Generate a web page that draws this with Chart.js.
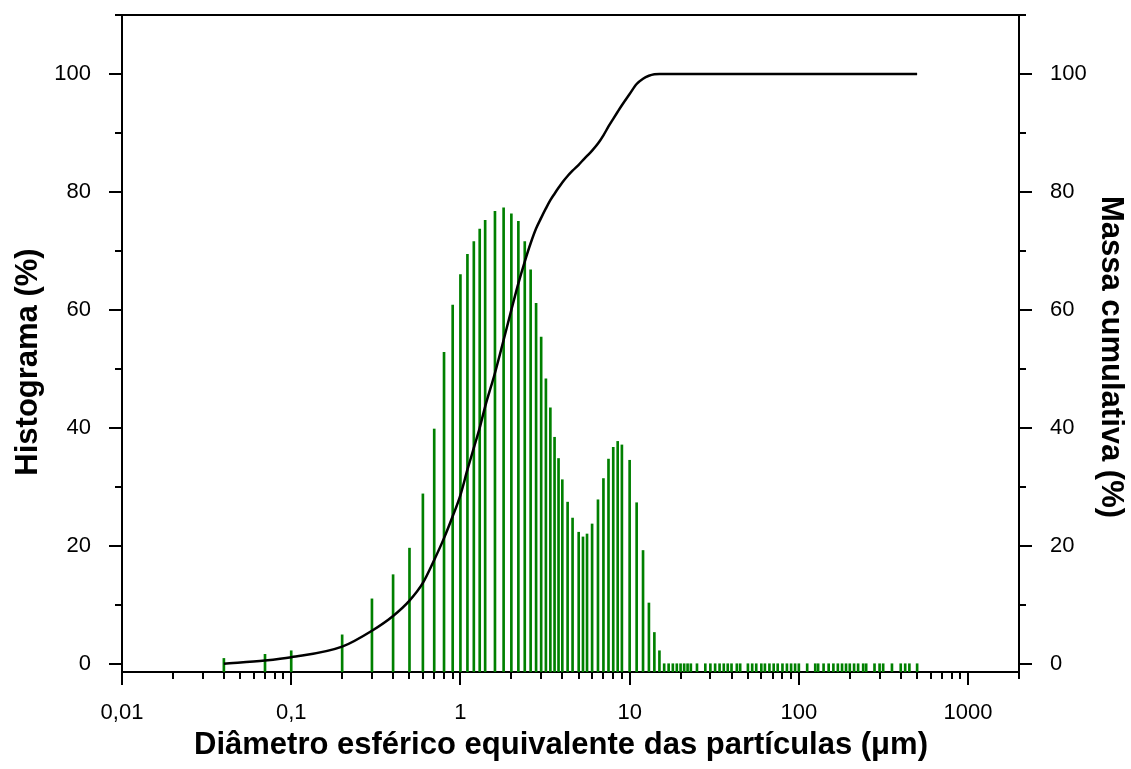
<!DOCTYPE html>
<html lang="pt">
<head>
<meta charset="utf-8">
<title>Distribuição granulométrica</title>
<script src="https://cdn.jsdelivr.net/npm/chart.js@4.4.1/dist/chart.umd.min.js"></script>
<style>
  html, body { margin: 0; padding: 0; background: #fff; }
  #wrap { width: 1131px; height: 769px; }
</style>
</head>
<body>
<div id="wrap"><canvas id="granChart" width="1131" height="769"></canvas></div>
<script>
// Size classes of the granulometer (µm)
const diameters = [
  0.04, 0.07, 0.1, 0.2, 0.3, 0.4, 0.5, 0.6, 0.7, 0.8, 0.9, 1, 1.1, 1.2, 1.3, 1.4,
  1.6, 1.8, 2, 2.2, 2.4, 2.6, 2.8, 3, 3.2, 3.4, 3.6, 3.8, 4, 4.3, 4.6,
  5, 5.3, 5.6, 6, 6.5, 7, 7.5, 8, 8.5, 9,
  10, 11, 12, 13, 14, 15, 16, 17, 18, 19, 20, 21, 22, 23,
  25, 28, 30, 32, 34, 36, 38, 40, 43, 45,
  50, 53, 56, 60, 63, 67, 71, 75, 80, 85, 90, 95,
  100, 112, 125, 130, 140, 150, 160, 170, 180, 190,
  200, 212, 224, 240, 250, 280, 300, 315, 355, 400, 425, 450, 500
];

// Histogram (%) for each class
const histogram = [
  0.9, 1.6, 2.2, 4.9, 11.0, 15.1, 19.6, 28.8, 39.8, 52.8, 60.8, 66.0, 69.4, 71.6, 73.7, 75.2,
  76.7, 77.3, 76.3, 75.0, 71.6, 66.8, 61.1, 55.4, 48.3, 43.4, 38.4, 34.8, 31.2, 27.4, 24.7,
  22.3, 21.5, 22.0, 23.7, 27.8, 31.4, 34.7, 36.7, 37.7, 37.1,
  34.5, 27.3, 19.2, 10.3, 5.3, 2.2, 0, 0, 0, 0, 0, 0, 0, 0,
  0, 0, 0, 0, 0, 0, 0, 0, 0, 0,
  0, 0, 0, 0, 0, 0, 0, 0, 0, 0, 0, 0,
  0, 0, 0, 0, 0, 0, 0, 0, 0, 0,
  0, 0, 0, 0, 0, 0, 0, 0, 0, 0, 0, 0, 0
];

// Cumulative mass (%) for each class
const cumulative = [
  0.0, 0.55, 1.1, 2.9, 5.6, 8.1, 10.7, 13.7, 17.6, 21.3, 25.0, 28.6, 32.9, 36.6, 40.0, 43.6,
  49.3, 54.9, 60.0, 64.5, 68.2, 71.3, 73.8, 75.6, 77.2, 78.6, 79.7, 80.7, 81.6, 82.7, 83.6,
  84.6, 85.4, 86.1, 87.0, 88.2, 89.6, 91.1, 92.4, 93.6, 94.7,
  96.6, 98.3, 99.2, 99.7, 99.95, 100, 100, 100, 100, 100, 100, 100, 100, 100,
  100, 100, 100, 100, 100, 100, 100, 100, 100, 100,
  100, 100, 100, 100, 100, 100, 100, 100, 100, 100, 100, 100,
  100, 100, 100, 100, 100, 100, 100, 100, 100, 100,
  100, 100, 100, 100, 100, 100, 100, 100, 100, 100, 100, 100, 100
];

// Axis ticks
const xMin = 0.01;
const xMax = 2000;
const xDecades = [0.01, 0.1, 1, 10, 100, 1000];
const xDecadeLabels = ['0,01', '0,1', '1', '10', '100', '1000'];
const yTicks = [0, 10, 20, 30, 40, 50, 60, 70, 80, 90, 100];
const yLabelled = [0, 20, 40, 60, 80, 100];

// Axis titles
const xTitle = 'Diâmetro esférico equivalente das partículas (μm)';
const yTitle = 'Histograma (%)';
const y2Title = 'Massa cumulativa (%)';

// decade ticks plus the 2..9 minors, kept inside the axis range
const xTicks = [];
xDecades.forEach(d => {
  for (let k = 1; k <= 9; k++) {
    if (d * k <= xMax * 1.0001) xTicks.push(d * k);
  }
});

const FONT = '"Liberation Sans", Arial, Helvetica, sans-serif';
const tickFont = { family: FONT, size: 22 };

// Tick marks (long on labelled values, short elsewhere) and the top frame line
const frameTicks = {
  id: 'frameTicks',
  afterDraw(chart) {
    const { ctx, chartArea: a, scales } = chart;
    ctx.save();
    ctx.strokeStyle = '#000';
    ctx.lineWidth = 2;
    ctx.beginPath();
    ctx.moveTo(a.left - 7, Math.round(a.top));
    ctx.lineTo(a.right + 7, Math.round(a.top));

    scales.x.ticks.forEach(t => {
      const px = Math.round(scales.x.getPixelForValue(t.value));
      const len = t.label ? 13 : 7;
      ctx.moveTo(px, a.bottom);
      ctx.lineTo(px, a.bottom + len);
    });
    scales.y.ticks.forEach(t => {
      const py = Math.round(scales.y.getPixelForValue(t.value));
      const len = t.label ? 13 : 7;
      ctx.moveTo(a.left, py);
      ctx.lineTo(a.left - len, py);
    });
    scales.y2.ticks.forEach(t => {
      const py = Math.round(scales.y2.getPixelForValue(t.value));
      const len = t.label ? 13 : 7;
      ctx.moveTo(a.right, py);
      ctx.lineTo(a.right + len, py);
    });
    ctx.stroke();
    ctx.restore();
  }
};

// Axis titles, placed by hand like in the original plot
const axisTitles = {
  id: 'axisTitles',
  afterDraw(chart) {
    const { ctx } = chart;
    ctx.save();
    ctx.fillStyle = '#000';
    ctx.font = 'bold 31px ' + FONT;
    ctx.textAlign = 'center';
    ctx.textBaseline = 'middle';
    ctx.fillText(xTitle, 561, 745);

    ctx.save();
    ctx.translate(28, 362);
    ctx.rotate(-Math.PI / 2);
    ctx.fillText(yTitle, 0, 0);
    ctx.restore();

    ctx.translate(1111, 357);
    ctx.rotate(Math.PI / 2);
    ctx.fillText(y2Title, 0, 0);
    ctx.restore();
  }
};

const yLabel = v => (yLabelled.includes(v) ? String(v) : '');

// fixed box sizes so the plot area sits at a known place
const fixWidth = w => s => {
  s.width = w;
  s.paddingTop = 0;
  s.paddingBottom = 0;
};

const ctx = document.getElementById('granChart').getContext('2d');

new Chart(ctx, {
  type: 'bar',
  data: {
    datasets: [
      {
        type: 'line',
        label: 'Massa cumulativa',
        data: diameters.map((d, i) => ({ x: d, y: cumulative[i] })),
        yAxisID: 'y2',
        borderColor: '#000',
        borderWidth: 2.5,
        pointRadius: 0,
        cubicInterpolationMode: 'monotone',
        fill: false,
        order: 1
      },
      {
        type: 'bar',
        label: 'Histograma',
        data: diameters.map((d, i) => ({ x: d, y: histogram[i] })),
        yAxisID: 'y',
        backgroundColor: '#008000',
        barThickness: 2,
        base: -1.4,
        order: 2
      }
    ]
  },
  options: {
    responsive: false,
    animation: false,
    layout: { padding: { top: 15, left: 0, right: 0, bottom: 0 } },
    plugins: {
      legend: { display: false },
      tooltip: { enabled: false }
    },
    scales: {
      x: {
        type: 'logarithmic',
        min: xMin,
        max: xMax,
        offset: false,
        bounds: 'data',
        grid: { display: false },
        border: { display: true, color: '#000', width: 2 },
        afterBuildTicks: s => { s.ticks = xTicks.map(v => ({ value: v })); },
        afterFit: s => {
          s.height = 97;
          s.paddingLeft = 0;
          s.paddingRight = 0;
        },
        ticks: {
          autoSkip: false,
          maxRotation: 0,
          color: '#000',
          font: tickFont,
          padding: 20,
          callback: v => {
            const i = xDecades.indexOf(v);
            return i >= 0 ? xDecadeLabels[i] : '';
          }
        }
      },
      y: {
        position: 'left',
        min: -1.4,
        max: 110,
        grid: { display: false },
        border: { display: true, color: '#000', width: 2 },
        afterBuildTicks: s => { s.ticks = yTicks.map(v => ({ value: v })); },
        afterFit: fixWidth(122),
        ticks: { color: '#000', font: tickFont, padding: 23, autoSkip: false, callback: yLabel }
      },
      y2: {
        position: 'right',
        min: -1.4,
        max: 110,
        grid: { display: false },
        border: { display: true, color: '#000', width: 2 },
        afterBuildTicks: s => { s.ticks = yTicks.map(v => ({ value: v })); },
        afterFit: fixWidth(112),
        ticks: { color: '#000', font: tickFont, padding: 23, autoSkip: false, callback: yLabel }
      }
    }
  },
  plugins: [frameTicks, axisTitles]
});
</script>
</body>
</html>
